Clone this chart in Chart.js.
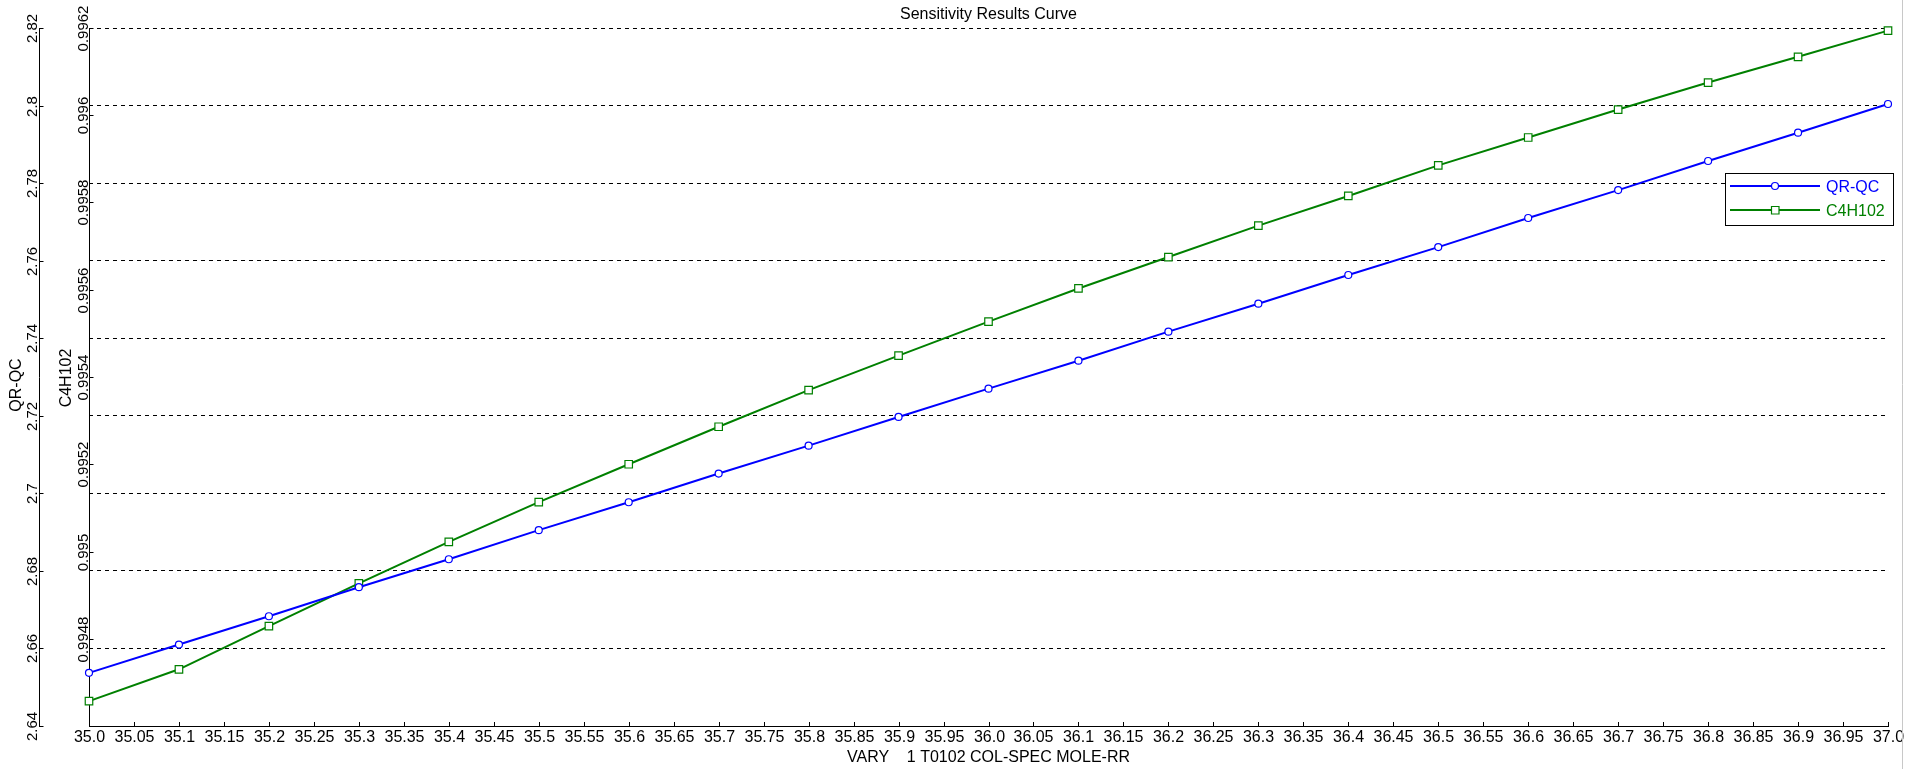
<!DOCTYPE html>
<html>
<head>
<meta charset="utf-8">
<title>Sensitivity Results Curve</title>
<script src="https://cdn.jsdelivr.net/npm/chart.js@4"></script>
<style>
  html, body { margin: 0; padding: 0; background: #fff; }
  canvas { display: block; }
</style>
</head>
<body>
<canvas id="myChart" width="1905" height="769"></canvas>
<script>
// varied parameter
const xValues = [35.0, 35.1, 35.2, 35.3, 35.4, 35.5, 35.6, 35.7, 35.8, 35.9, 36.0,
                 36.1, 36.2, 36.3, 36.4, 36.5, 36.6, 36.7, 36.8, 36.9, 37.0];

// QR-QC (left outer axis)
const qrqc = [2.6537, 2.6610, 2.6683, 2.6758, 2.6830, 2.6905, 2.6977, 2.7051, 2.7123, 2.7197, 2.7270,
              2.7342, 2.7417, 2.7489, 2.7563, 2.7635, 2.7710, 2.7782, 2.7857, 2.7930, 2.8004];

// C4H102 (left inner axis)
const c4h102 = [0.994657, 0.994730, 0.994829, 0.994927, 0.995022, 0.995113, 0.995200, 0.995286, 0.995370, 0.995449, 0.995527,
                0.995603, 0.995675, 0.995747, 0.995815, 0.995885, 0.995949, 0.996013, 0.996075, 0.996134, 0.996194];

// tick values
const xTicks = [35.0, 35.05, 35.1, 35.15, 35.2, 35.25, 35.3, 35.35, 35.4, 35.45, 35.5, 35.55, 35.6, 35.65,
                35.7, 35.75, 35.8, 35.85, 35.9, 35.95, 36.0, 36.05, 36.1, 36.15, 36.2, 36.25, 36.3, 36.35,
                36.4, 36.45, 36.5, 36.55, 36.6, 36.65, 36.7, 36.75, 36.8, 36.85, 36.9, 36.95, 37.0];
const qrqcTicks = [2.64, 2.66, 2.68, 2.7, 2.72, 2.74, 2.76, 2.78, 2.8, 2.82];
const c4hTicks = [0.9948, 0.995, 0.9952, 0.9954, 0.9956, 0.9958, 0.996, 0.9962];

const FONT = "'Liberation Sans', Arial, sans-serif";

function fmtX(v) {
    return Number.isInteger(v) ? v.toFixed(1) : String(parseFloat(v.toFixed(2)));
}
function fmtY(v, d) {
    return String(parseFloat(v.toFixed(d)));
}

function line(ctx, x1, y1, x2, y2) {
    ctx.beginPath();
    ctx.moveTo(x1, y1);
    ctx.lineTo(x2, y2);
    ctx.stroke();
}

function vText(ctx, txt, x, y) {
    ctx.save();
    ctx.translate(x, y);
    ctx.rotate(-Math.PI / 2);
    ctx.textAlign = 'center';
    ctx.textBaseline = 'alphabetic';
    ctx.fillText(txt, 0, 0);
    ctx.restore();
}

const axesPlugin = {
    id: 'axesPlugin',
    beforeDatasetsDraw(chart) {
        const ctx = chart.ctx;
        const { left, right, top, bottom } = chart.chartArea;
        const sx = chart.scales.x, sy = chart.scales.y, sy2 = chart.scales.y2;
        ctx.save();
        ctx.strokeStyle = '#000';
        ctx.fillStyle = '#000';
        ctx.lineWidth = 1;

        // bottom axis
        line(ctx, left, bottom + 0.5, right + 1, bottom + 0.5);
        ctx.font = '16px ' + FONT;
        ctx.textAlign = 'center';
        ctx.textBaseline = 'alphabetic';
        xTicks.forEach(v => {
            const px = Math.round(sx.getPixelForValue(v)) + 0.5;
            line(ctx, px, bottom, px, bottom - 4);
            ctx.fillText(fmtX(v), px, 742);
        });
        ctx.fillText('VARY    1 T0102 COL-SPEC MOLE-RR', (left + right) / 2, 762);

        // QR-QC axis
        const ax1 = 39.5;
        line(ctx, ax1, top, ax1, bottom + 1);
        ctx.font = '15px ' + FONT;
        qrqcTicks.forEach(v => {
            const py = Math.round(sy.getPixelForValue(v)) + 0.5;
            line(ctx, ax1, py, ax1 + 4, py);
            vText(ctx, fmtY(v, 2), 37, py);
        });
        ctx.font = '16px ' + FONT;
        vText(ctx, 'QR-QC', 20.5, 385);

        // C4H102 axis
        const ax2 = left + 0.5;
        line(ctx, ax2, top, ax2, bottom + 1);
        ctx.font = '15px ' + FONT;
        c4hTicks.forEach(v => {
            const py = Math.round(sy2.getPixelForValue(v)) + 0.5;
            line(ctx, ax2, py, ax2 + 4, py);
            vText(ctx, fmtY(v, 4), 87.5, py);
        });
        ctx.font = '16px ' + FONT;
        vText(ctx, 'C4H102', 70.5, 378);

        // title
        ctx.textAlign = 'center';
        ctx.fillText('Sensitivity Results Curve', (left + right) / 2, 19);

        // window edge
        ctx.strokeStyle = '#c8c8c8';
        line(ctx, 1902.5, 0, 1902.5, 769);
        ctx.restore();
    },
    afterDraw(chart) {
        const ctx = chart.ctx;
        ctx.save();
        // legend box
        ctx.fillStyle = '#fff';
        ctx.fillRect(1725.5, 173.5, 168, 52);
        ctx.strokeStyle = '#000';
        ctx.lineWidth = 1;
        ctx.strokeRect(1725.5, 173.5, 168, 52);

        ctx.font = '16px ' + FONT;
        ctx.textAlign = 'left';
        ctx.textBaseline = 'alphabetic';
        chart.data.datasets.forEach((ds, i) => {
            const y = 186 + i * 24;
            ctx.strokeStyle = ds.borderColor;
            ctx.lineWidth = 2;
            line(ctx, 1730, y, 1820, y);
            ctx.lineWidth = 1.2;
            ctx.fillStyle = '#fff';
            ctx.beginPath();
            if (ds.pointStyle === 'rect') {
                ctx.rect(1771.5, y - 3.5, 7.5, 7.5);
            } else {
                ctx.arc(1775, y, 3.5, 0, Math.PI * 2);
            }
            ctx.fill();
            ctx.stroke();
            ctx.fillStyle = ds.borderColor;
            ctx.fillText(ds.label, 1826, y + 6);
        });
        ctx.restore();
    }
};

const ctx = document.getElementById('myChart').getContext('2d');

const myChart = new Chart(ctx, {
    type: 'line',
    data: {
        datasets: [
            {
                label: 'QR-QC',
                data: xValues.map((x, i) => ({ x: x, y: qrqc[i] })),
                yAxisID: 'y',
                borderColor: '#0000ff',
                borderWidth: 2,
                pointStyle: 'circle',
                pointRadius: 3.5,
                pointBorderWidth: 1.2,
                pointBackgroundColor: '#ffffff',
                pointBorderColor: '#0000ff',
                tension: 0,
                clip: false
            },
            {
                label: 'C4H102',
                data: xValues.map((x, i) => ({ x: x, y: c4h102[i] })),
                yAxisID: 'y2',
                borderColor: '#008000',
                borderWidth: 2,
                pointStyle: 'rect',
                pointRadius: 5.3,
                pointBorderWidth: 1.2,
                pointBackgroundColor: '#ffffff',
                pointBorderColor: '#008000',
                tension: 0,
                clip: false
            }
        ]
    },
    options: {
        responsive: false,
        animation: false,
        devicePixelRatio: 1,
        layout: { padding: { left: 89, right: 17, top: 28, bottom: 43 } },
        plugins: {
            legend: { display: false },
            title: { display: false },
            tooltip: { enabled: false }
        },
        scales: {
            x: {
                type: 'linear',
                min: 35,
                max: 37,
                display: false,
                afterBuildTicks: s => { s.ticks = xTicks.map(v => ({ value: v })); }
            },
            y: {
                type: 'linear',
                position: 'left',
                min: 2.64,
                max: 2.82,
                display: true,
                ticks: { display: false },
                grid: { color: '#000', lineWidth: 1, drawTicks: false },
                border: { display: false, dash: [4, 4] },
                afterBuildTicks: s => { s.ticks = qrqcTicks.map(v => ({ value: v })); }
            },
            y2: {
                type: 'linear',
                position: 'left',
                min: 0.9946,
                max: 0.9962,
                display: false,
                afterBuildTicks: s => { s.ticks = c4hTicks.map(v => ({ value: v })); }
            }
        }
    },
    plugins: [axesPlugin]
});
</script>
</body>
</html>
